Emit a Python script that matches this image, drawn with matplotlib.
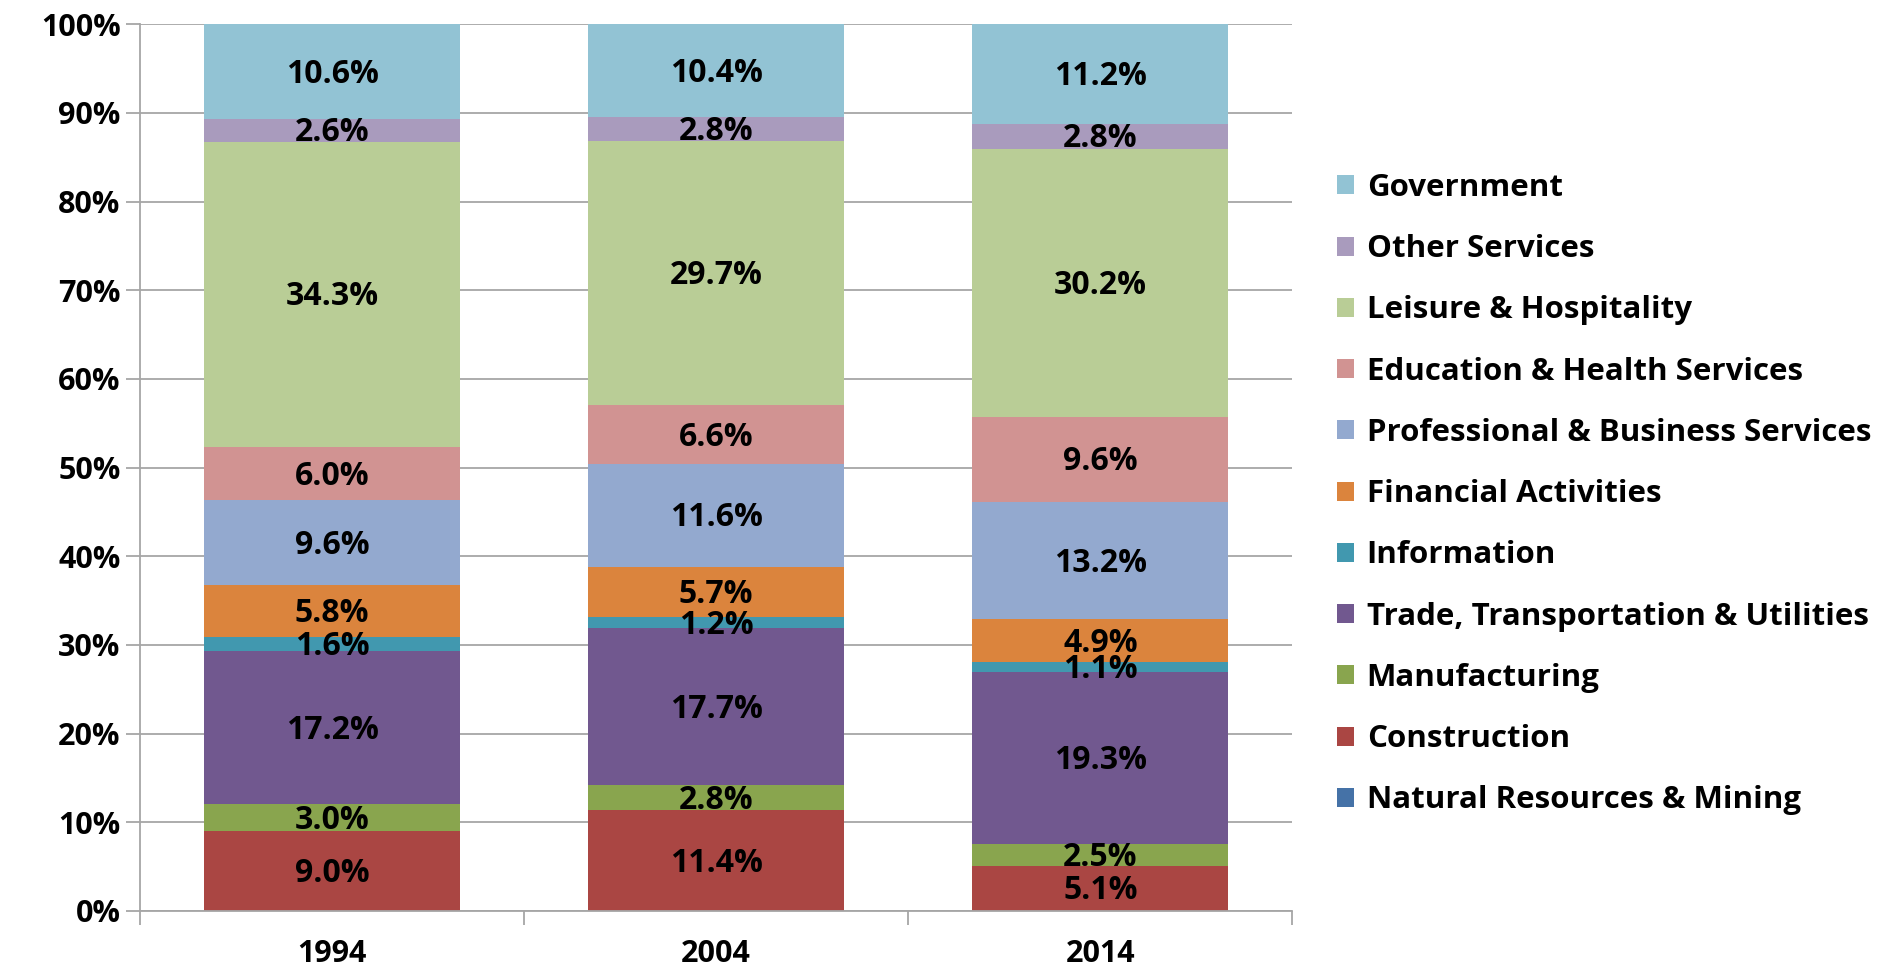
import numpy as np
import matplotlib
matplotlib.use("Agg")
import matplotlib.pyplot as plt

plt.rcParams['font.family'] = ['Open Sans', 'DejaVu Sans']
plt.rcParams['font.weight'] = 'bold'

years = ['1994', '2004', '2014']

# bottom to top, shares of employment (%)
sectors = ['Natural Resources & Mining', 'Construction', 'Manufacturing',
           'Trade, Transportation & Utilities', 'Information',
           'Financial Activities', 'Professional & Business Services',
           'Education & Health Services', 'Leisure & Hospitality',
           'Other Services', 'Government']

natural = [0.0, 0.0, 0.0]
construction = [9.0, 11.4, 5.1]
manufacturing = [3.0, 2.8, 2.5]
trade = [17.2, 17.7, 19.3]
information = [1.6, 1.2, 1.1]
financial = [5.8, 5.7, 4.9]
professional = [9.6, 11.6, 13.2]
education = [6.0, 6.6, 9.6]
leisure = [34.3, 29.7, 30.2]
other = [2.6, 2.8, 2.8]
government = [10.6, 10.4, 11.2]

colors = ['#4572A7', '#AA4643', '#89A54E', '#71588F', '#4198AF',
          '#DB843D', '#93A9CF', '#D19392', '#B9CD96', '#A99BBD', '#92C3D4']

values = np.array([natural, construction, manufacturing, trade, information,
                   financial, professional, education, leisure, other, government])
shares = values / values.sum(axis=0) * 100  # 100% stacked like Excel

fig = plt.figure(figsize=(18.84, 9.72), dpi=100)
ax = fig.add_axes([0.0743, 0.0628, 0.6117, 0.9122])

x = np.arange(len(years))
bottom = np.zeros(len(years))
handles = []
for i, name in enumerate(sectors):
    b = ax.bar(x, shares[i], 0.667, bottom=bottom, color=colors[i], label=name, zorder=2)
    handles.append(b)
    for j in range(len(years)):
        if values[i][j] > 0:
            ax.text(x[j], bottom[j] + shares[i][j] / 2 - 0.3, f'{values[i][j]:.1f}%',
                    ha='center', va='center', fontsize=23, fontweight='bold', zorder=3)
    bottom += shares[i]

ax.set_xlim(-0.5, 2.5)
ax.set_ylim(0, 100)
ax.set_yticks(np.arange(0, 101, 10))
ax.set_yticklabels([f'{v}%' for v in range(0, 101, 10)])
ax.yaxis.grid(True, color='#A6A6A6', linewidth=1.3, zorder=0)
ax.set_xticks(x)
ax.set_xticklabels(years)
ax.set_xticks([-0.5, 0.5, 1.5, 2.5], minor=True)
ax.tick_params(axis='x', which='major', length=0, pad=20, labelsize=22)
ax.tick_params(axis='x', which='minor', length=10, color='#A6A6A6', width=1.3)
ax.tick_params(axis='y', length=10, color='#A6A6A6', width=1.3, labelsize=22, pad=4)
for lab in ax.get_xticklabels() + ax.get_yticklabels():
    lab.set_fontweight('bold')
for s in ['top', 'right']:
    ax.spines[s].set_visible(False)
for s in ['left', 'bottom']:
    ax.spines[s].set_color('#A6A6A6')
    ax.spines[s].set_linewidth(1.3)

leg = fig.legend(handles[::-1], sectors[::-1], loc='upper left',
                 bbox_to_anchor=(0.6947, 0.851), frameon=False,
                 fontsize=22.5, handlelength=0.55, handleheight=0.55,
                 handletextpad=0.4, labelspacing=1.0)
for t in leg.get_texts():
    t.set_fontweight('bold')

fig.savefig('out.png', dpi=100)
